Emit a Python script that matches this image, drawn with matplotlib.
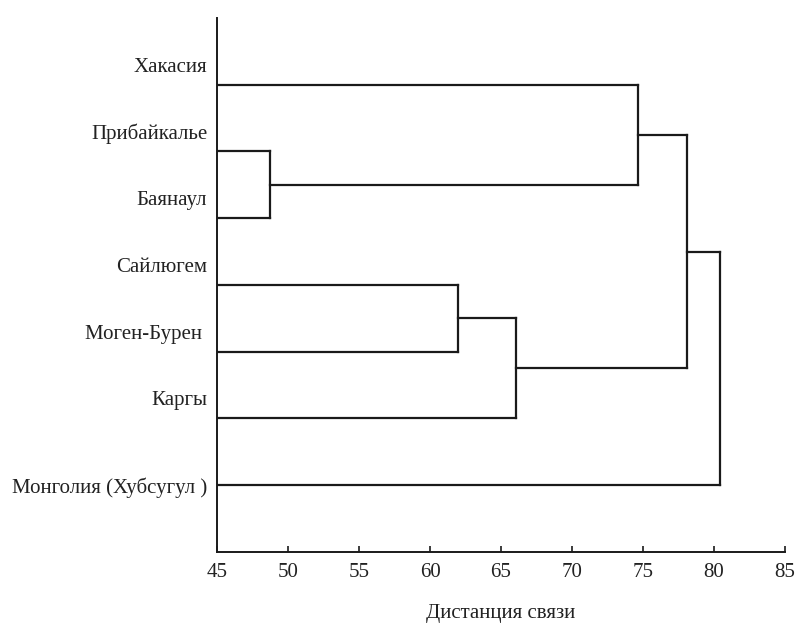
import matplotlib
matplotlib.use('Agg')
import matplotlib.pyplot as plt

plt.rcParams['font.family'] = ['Liberation Serif', 'DejaVu Serif']

# leaves, top to bottom
leaves = ['Хакасия', 'Прибайкалье', 'Баянаул', 'Сайлюгем',
          'Моген-Бурен ', 'Каргы', 'Монголия (Хубсугул )']
# merges: (child a, child b, linkage distance); new clusters numbered from len(leaves)
merges = [
    (1, 2, 48.7),
    (3, 4, 62.0),
    (8, 5, 66.05),
    (0, 7, 74.65),
    (10, 9, 78.1),
    (11, 6, 80.4),
]
xticks = [45, 50, 55, 60, 65, 70, 75, 80, 85]

fig = plt.figure(figsize=(7.97, 6.24), dpi=100)
ax = fig.add_axes([0.2723, 0.1154, 0.985 - 0.2723, 0.9712 - 0.1154])

line_kw = dict(color='#1a1a1a', lw=1.6, solid_capstyle='projecting')
pos = {i: i + 1.0 for i in range(len(leaves))}
height = {i: 0.0 for i in range(len(leaves))}
for k, (a, b, d) in enumerate(merges):
    new = len(leaves) + k
    for c in (a, b):
        ax.plot([height[c], d], [pos[c], pos[c]], **line_kw)
    ax.plot([d, d], [pos[a], pos[b]], **line_kw)
    pos[new] = (pos[a] + pos[b]) / 2
    height[new] = d

ax.set_xlim(45, 85)
ax.set_ylim(8, 0)
ax.set_xticks(xticks)
ax.set_xticklabels([str(t) for t in xticks], fontsize=15, color='#222222')

# labels in the original sit a bit above their branches (except the last one)
label_pos = [pos[i] - 0.3 for i in range(len(leaves) - 1)] + [pos[len(leaves) - 1]]
ax.set_yticks(label_pos)
ax.set_yticklabels(leaves, fontsize=15, color='#222222')
ax.tick_params(axis='y', length=0, pad=7)
ax.tick_params(axis='x', direction='in', length=4, width=1.2, pad=8, color='#1a1a1a')

for side in ('top', 'right'):
    ax.spines[side].set_visible(False)
for side in ('left', 'bottom'):
    ax.spines[side].set_linewidth(1.4)
    ax.spines[side].set_color('#1a1a1a')

ax.set_xlabel('Дистанция связи', fontsize=15, color='#222222', labelpad=16)

fig.savefig('out.png', dpi=100)
